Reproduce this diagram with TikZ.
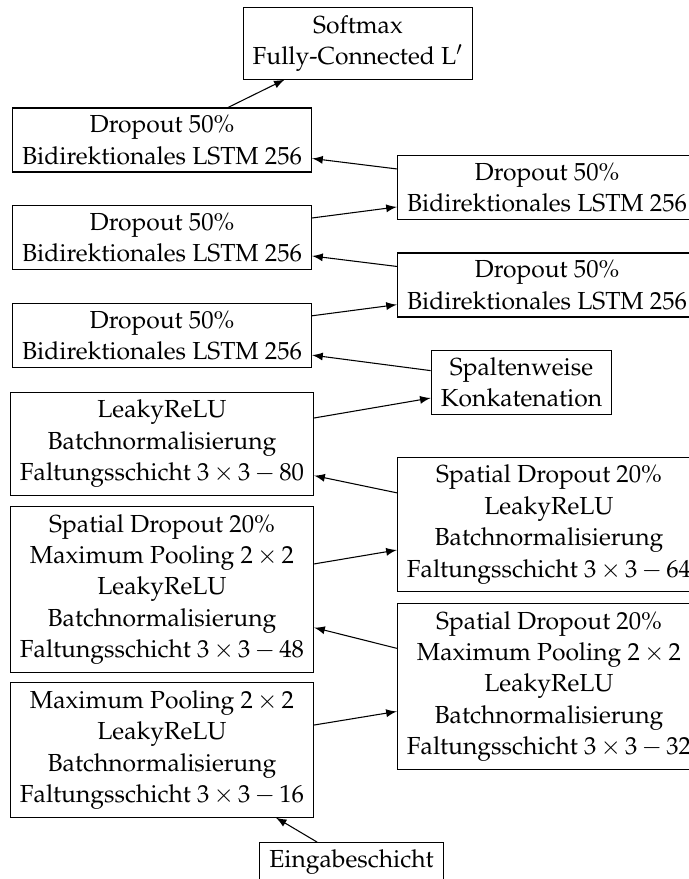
\documentclass[tikz,border=0pt]{standalone}
\usepackage[T1]{fontenc}
\usepackage{mathpazo}
\usetikzlibrary{arrows}
\medmuskip=3mu plus 2mu minus 3mu\relax
\begin{document}
\begin{tikzpicture}[x=0.375pt,y=-0.375pt,
  box/.style={draw,align=center,inner xsep=3.6pt,inner ysep=2.8pt,font=\fontsize{9.25}{11.8}\selectfont},
  arr/.style={-latex}]
\useasboundingbox (0,0) rectangle (688,879);
\node[box] (sm) at (358,43.5) {Softmax\\Fully-Connected L$'$};
\node[box] (l1) at (162,140) {Dropout 50\%\\Bidirektionales LSTM 256};
\node[box] (r1) at (547,187.5) {Dropout 50\%\\Bidirektionales LSTM 256};
\node[box] (l2) at (162,237.5) {Dropout 50\%\\Bidirektionales LSTM 256};
\node[box] (r2) at (547,285) {Dropout 50\%\\Bidirektionales LSTM 256};
\node[box] (l3) at (162,335.5) {Dropout 50\%\\Bidirektionales LSTM 256};
\node[box] (kk) at (521.5,382.5) {Spaltenweise\\Konkatenation};
\node[box] (c80) at (162,444) {LeakyReLU\\Batchnormalisierung\\Faltungsschicht $3\times3-80$};
\node[box] (c64) at (549,524.5) {Spatial Dropout 20\%\\LeakyReLU\\Batchnormalisierung\\Faltungsschicht $3\times3-64$};
\node[box] (c48) at (162,589.5) {Spatial Dropout 20\%\\Maximum Pooling $2\times2$\\LeakyReLU\\Batchnormalisierung\\Faltungsschicht $3\times3-48$};
\node[box] (c32) at (549,686.5) {Spatial Dropout 20\%\\Maximum Pooling $2\times2$\\LeakyReLU\\Batchnormalisierung\\Faltungsschicht $3\times3-32$};
\node[box] (c16) at (162,750) {Maximum Pooling $2\times2$\\LeakyReLU\\Batchnormalisierung\\Faltungsschicht $3\times3-16$};
\node[box] (in) at (351.5,862.5) {Eingabeschicht};
\draw[arr] (in) -- (c16);
\draw[arr] (c16) -- (c32);
\draw[arr] (c32) -- (c48);
\draw[arr] (c48) -- (c64);
\draw[arr] (c64) -- (c80);
\draw[arr] (c80) -- (kk);
\draw[arr] (kk) -- (l3);
\draw[arr] (l3) -- (r2);
\draw[arr] (r2) -- (l2);
\draw[arr] (l2) -- (r1);
\draw[arr] (r1) -- (l1);
\draw[arr] (l1) -- (sm);
\end{tikzpicture}
\end{document}
